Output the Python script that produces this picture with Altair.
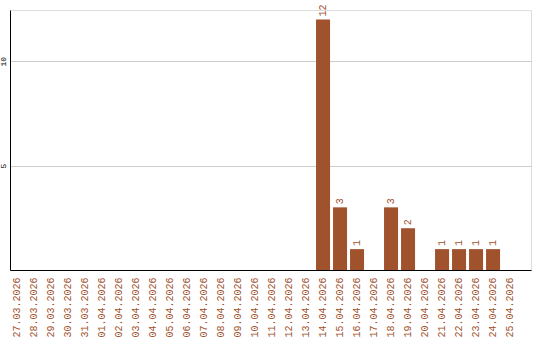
import altair as alt
import pandas as pd

dates = ["27.03.2026", "28.03.2026", "29.03.2026", "30.03.2026", "31.03.2026",
         "01.04.2026", "02.04.2026", "03.04.2026", "04.04.2026", "05.04.2026",
         "06.04.2026", "07.04.2026", "08.04.2026", "09.04.2026", "10.04.2026",
         "11.04.2026", "12.04.2026", "13.04.2026", "14.04.2026", "15.04.2026",
         "16.04.2026", "17.04.2026", "18.04.2026", "19.04.2026", "20.04.2026",
         "21.04.2026", "22.04.2026", "23.04.2026", "24.04.2026", "25.04.2026"]
values = [0, 0, 0, 0, 0, 0, 0, 0, 0, 0, 0, 0, 0, 0, 0, 0, 0, 0,
          12, 3, 1, 0, 3, 2, 0, 1, 1, 1, 1, 0]

df = pd.DataFrame({"date": dates, "value": values})
COLOR = "#A0522D"
FONT = "Liberation Mono"

x = alt.X("date:N", sort=dates, title=None,
          scale=alt.Scale(paddingInner=0.176, paddingOuter=0.41, align=0),
          axis=alt.Axis(labelAngle=270, labelAlign="right", labelBaseline="middle",
                        labelColor=COLOR, labelFont=FONT, labelFontSize=10,
                        ticks=False, labelPadding=7, domainColor="black",
                        domainWidth=1, labelOverlap=False))
y = alt.Y("value:Q", title=None,
          scale=alt.Scale(domain=[0, 12.45], nice=False),
          axis=alt.Axis(values=[5, 10], labelAngle=270, labelAlign="center",
                        labelBaseline="bottom", labelFont=FONT, labelFontSize=8,
                        labelColor="black", ticks=False, labelPadding=3,
                        gridColor="#cccccc", domainColor="black", domainWidth=1))

bars = alt.Chart(df).mark_bar(color=COLOR).encode(x=x, y=y)
text = alt.Chart(df).transform_filter("datum.value > 0").mark_text(
    angle=270, align="left", baseline="middle", dx=3, fill=COLOR, color=COLOR,
    font=FONT, fontSize=10).encode(x=x, y=y, text="value:Q")

chart = (bars + text).properties(
    width=521, height=260,
    autosize=alt.AutoSizeParams(type="none"),
    padding={"left": 10, "top": 10, "right": 9, "bottom": 70},
).configure_view(stroke=None).configure(background="white")

chart.save("out.html", embed_options={"renderer": "svg", "actions": False})
